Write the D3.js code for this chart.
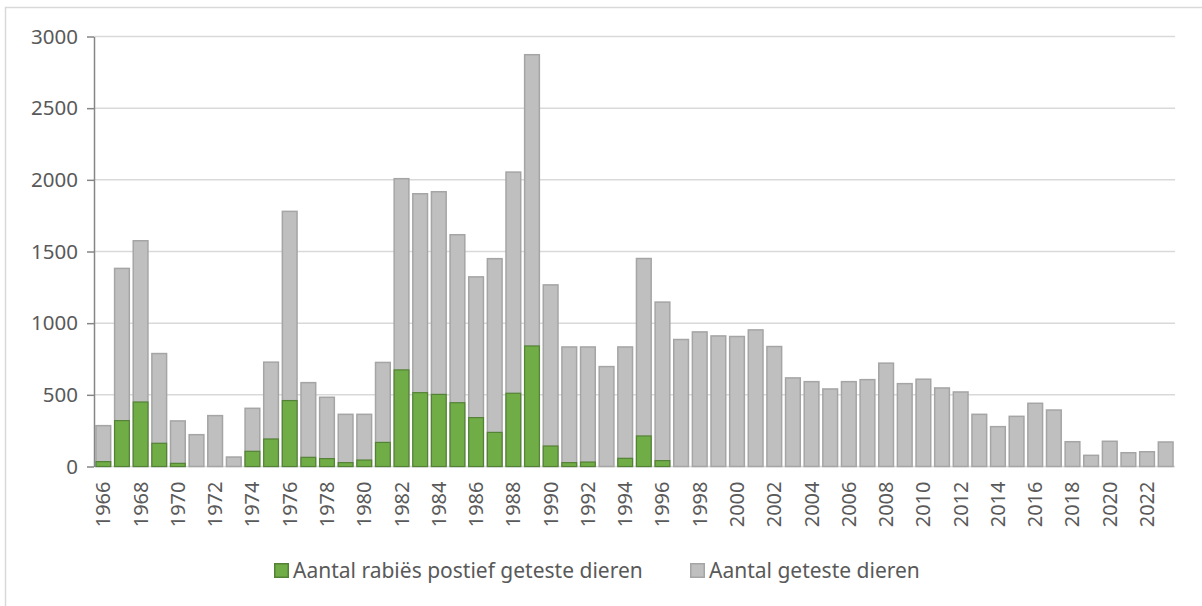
<!DOCTYPE html>
<html>
<head>
<meta charset="utf-8">
<script src="https://cdn.jsdelivr.net/npm/d3@7"></script>
<style>
  html, body { margin: 0; padding: 0; background: #fff; }
  svg { display: block; font-family: "Noto Sans", "Open Sans", sans-serif; }
</style>
</head>
<body>
<svg id="chart" width="1202" height="606"></svg>
<script>
// ---------- data ----------
const years = d3.range(1966, 2024);
const tested = [
  285, 1382, 1575, 788, 318, 222, 355, 66, 406, 728,
  1780, 585, 483, 364, 364, 726, 2008, 1903, 1917, 1617,
  1323, 1450, 2054, 2873, 1267, 834, 834, 697, 834, 1451,
  1147, 886, 939, 911, 907, 953, 837, 618, 592, 541,
  592, 606, 721, 578, 609, 548, 520, 364, 278, 350,
  441, 394, 173, 78, 176, 96, 103, 171
];
const positive = [
  34, 320, 450, 162, 22, 0, 0, 0, 106, 192,
  460, 64, 55, 27, 45, 168, 674, 515, 503, 445,
  341, 238, 511, 841, 143, 27, 31, 0, 57, 213,
  41, 0, 0, 0, 0, 0, 0, 0, 0, 0,
  0, 0, 0, 0, 0, 0, 0, 0, 0, 0,
  0, 0, 0, 0, 0, 0, 0, 0
];
const yTicks = [0, 500, 1000, 1500, 2000, 2500, 3000];
const seriesNames = ["Aantal rabiës postief geteste dieren", "Aantal geteste dieren"];

// ---------- layout ----------
const svg = d3.select("#chart");
const plotL = 94, plotR = 1175, plotT = 36.5, plotB = 466.5;
const grey = { fill: "#bfbfbf", stroke: "#a5a5a5" };
const green = { fill: "#70ad47", stroke: "#548235" };

// outer frame (only left + top visible in the crop)
svg.append("rect")
  .attr("x", 5.5).attr("y", 7.5).attr("width", 1300).attr("height", 700)
  .attr("fill", "none").attr("stroke", "#d9d9d9").attr("stroke-width", 1.5);

const x = d3.scaleBand().domain(years).range([plotL, plotR]).paddingInner(0.13).paddingOuter(0.065);
const y = d3.scaleLinear().domain([0, 3000]).range([plotB, plotT]);

// gridlines
svg.append("g").selectAll("line").data(yTicks).join("line")
  .attr("x1", plotL).attr("x2", plotR)
  .attr("y1", (d) => y(d)).attr("y2", (d) => y(d))
  .attr("stroke", "#d9d9d9").attr("stroke-width", 1.5);

// bars: total tested, positive drawn over it
const bw = x.bandwidth();
svg.append("g").selectAll("rect").data(years).join("rect")
  .attr("x", (d) => x(d) + 0.75).attr("width", bw - 1.5)
  .attr("y", (d, i) => y(tested[i])).attr("height", (d, i) => y(0) - y(tested[i]))
  .attr("fill", grey.fill).attr("stroke", grey.stroke).attr("stroke-width", 1.5);

svg.append("g").selectAll("rect").data(years.filter((d, i) => positive[i] > 0)).join("rect")
  .attr("x", (d) => x(d) + 0.75).attr("width", bw - 1.5)
  .attr("y", (d) => y(positive[years.indexOf(d)]))
  .attr("height", (d) => y(0) - y(positive[years.indexOf(d)]))
  .attr("fill", green.fill).attr("stroke", green.stroke).attr("stroke-width", 1.2);

// y axis
const yAxis = svg.append("g").attr("transform", `translate(${plotL},0)`)
  .call(d3.axisLeft(y).tickValues(yTicks).tickFormat(d3.format("d")).tickSize(7).tickPadding(9).tickSizeOuter(0));
yAxis.select(".domain").attr("stroke", "#868686").attr("stroke-width", 1.5);
yAxis.selectAll(".tick line").attr("stroke", "#868686").attr("stroke-width", 1.5);
yAxis.selectAll(".tick text").attr("fill", "#595959").attr("font-size", 20.5)
  .attr("font-family", "Noto Sans, sans-serif");

// x axis labels (every other year, rotated)
const xAxis = svg.append("g").attr("transform", `translate(0,${plotB})`)
  .call(d3.axisBottom(x).tickValues(years.filter((d) => (d - 1966) % 2 === 0)).tickSize(0).tickPadding(0));
xAxis.select(".domain").remove();
xAxis.selectAll(".tick text")
  .attr("fill", "#595959").attr("font-size", 20).attr("font-family", "Noto Sans, sans-serif")
  .attr("text-anchor", "end").attr("dy", "0.35em")
  .attr("transform", "translate(0,15) rotate(-90)");

// legend
const legendItems = [
  { name: seriesNames[0], style: green, x: 274 },
  { name: seriesNames[1], style: grey, x: 690 },
];
const lg = svg.append("g").selectAll("g").data(legendItems).join("g")
  .attr("transform", (d) => `translate(${d.x},563)`);
lg.append("rect").attr("x", 0.75).attr("y", 0.75).attr("width", 13.5).attr("height", 13.5)
  .attr("fill", (d) => d.style.fill).attr("stroke", (d) => d.style.stroke).attr("stroke-width", 1.5);
lg.append("text").attr("x", 19).attr("y", 7.5).attr("dy", "0.35em")
  .attr("fill", "#595959").attr("font-size", 21)
  .text((d) => d.name);
</script>
</body>
</html>
